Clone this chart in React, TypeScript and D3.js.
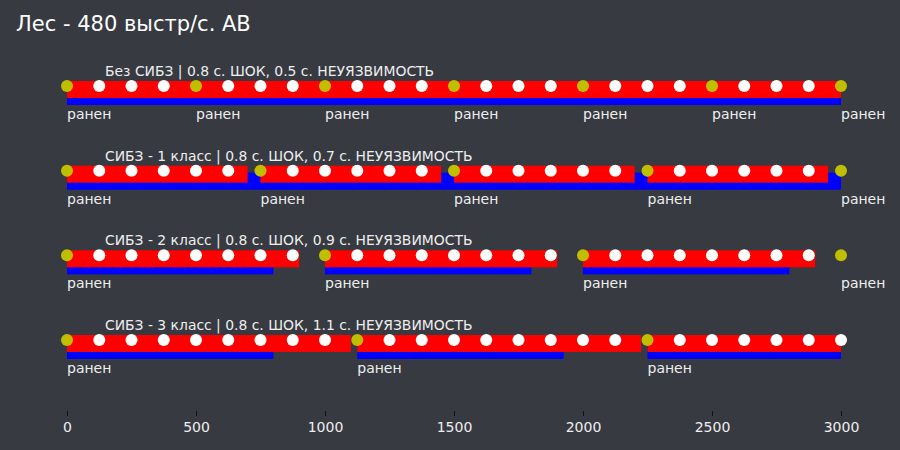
import * as d3 from "d3";
import { useEffect, useRef } from "react";

const title = "Лес - 480 выстр/с. АВ";

const rowLabels = [
    "Без СИБЗ | 0.8 с. ШОК, 0.5 с. НЕУЯЗВИМОСТЬ",
    "СИБЗ - 1 класс | 0.8 с. ШОК, 0.7 с. НЕУЯЗВИМОСТЬ",
    "СИБЗ - 2 класс | 0.8 с. ШОК, 0.9 с. НЕУЯЗВИМОСТЬ",
    "СИБЗ - 3 класс | 0.8 с. ШОК, 1.1 с. НЕУЯЗВИМОСТЬ",
];

// shot times, ms
const shotTimes = [
    0, 125, 250, 375, 500, 625, 750, 875, 1000, 1125, 1250, 1375, 1500,
    1625, 1750, 1875, 2000, 2125, 2250, 2375, 2500, 2625, 2750, 2875, 3000,
];

// shots that wounded
const woundTimes = [
    [0, 500, 1000, 1500, 2000, 2500, 3000],
    [0, 750, 1500, 2250, 3000],
    [0, 1000, 2000, 3000],
    [0, 1125, 2250],
];

// red: invulnerability
const invulnBars = [
    [[0, 3000]],
    [[0, 700], [750, 1450], [1500, 2200], [2250, 2950]],
    [[0, 900], [1000, 1900], [2000, 2900]],
    [[0, 1100], [1125, 2225], [2250, 3000]],
];

// blue: shock
const shockBars = [
    [[0, 3000]],
    [[0, 3000]],
    [[0, 800], [1000, 1800], [2000, 2800]],
    [[0, 800], [1125, 1925], [2250, 3000]],
];

const xTicks = [0, 500, 1000, 1500, 2000, 2500, 3000];

export default function App() {
    const svgRef = useRef<SVGSVGElement>(null);

    useEffect(() => {
        const svg = d3.select(svgRef.current);
        svg.selectAll("*").remove();

        const width = 900;
        const height = 450;
        const font = "DejaVu Sans, sans-serif";

        svg.append("rect")
            .attr("width", width)
            .attr("height", height)
            .attr("fill", "#373a41");

        const x = d3.scaleLinear().domain([0, 3000]).range([67, 841]);
        const y = d3.scalePoint<number>()
            .domain(rowLabels.map((_, i) => i))
            .range([86, 340]);

        svg.append("text")
            .attr("x", 16)
            .attr("y", 31)
            .attr("fill", "#ffffff")
            .attr("font-family", font)
            .attr("font-size", "21px")
            .text(title);

        rowLabels.forEach((label, i) => {
            const cy = y(i)!;
            const g = svg.append("g");

            g.selectAll("rect.shock")
                .data(shockBars[i])
                .enter()
                .append("rect")
                .attr("x", d => x(d[0]))
                .attr("width", d => x(d[1]) - x(d[0]))
                .attr("y", cy + 2)
                .attr("height", 17)
                .attr("fill", "#0000ff");

            g.selectAll("rect.inv")
                .data(invulnBars[i])
                .enter()
                .append("rect")
                .attr("x", d => x(d[0]))
                .attr("width", d => x(d[1]) - x(d[0]))
                .attr("y", cy - 5)
                .attr("height", 17)
                .attr("fill", "#ff0000");

            g.selectAll("circle")
                .data(shotTimes)
                .enter()
                .append("circle")
                .attr("cx", d => x(d))
                .attr("cy", cy)
                .attr("r", 6)
                .attr("fill", d => woundTimes[i].includes(d) ? "#bfbf00" : "#ffffff");

            g.selectAll("text.wound")
                .data(woundTimes[i])
                .enter()
                .append("text")
                .attr("x", d => x(d))
                .attr("y", cy + 33)
                .attr("fill", "#eeeeee")
                .attr("font-family", font)
                .attr("font-size", "14px")
                .text("ранен");

            g.append("text")
                .attr("x", 105)
                .attr("y", cy - 10)
                .attr("fill", "#eeeeee")
                .attr("font-family", font)
                .attr("font-size", "13.9px")
                .text(label);
        });

        const axis = svg.append("g")
            .attr("transform", "translate(0,411)")
            .call(d3.axisBottom(x).tickValues(xTicks).tickSize(5).tickPadding(6).tickFormat(d3.format("d")));
        axis.select(".domain").remove();
        axis.selectAll("line").attr("stroke", "#111111");
        axis.selectAll("text")
            .attr("fill", "#eeeeee")
            .attr("font-family", font)
            .attr("font-size", "14px");
    }, []);

    return (
        <svg
            ref={svgRef}
            width={900}
            height={450}
            style={{ position: "absolute", left: 0, top: 0 }}
        />
    );
}
